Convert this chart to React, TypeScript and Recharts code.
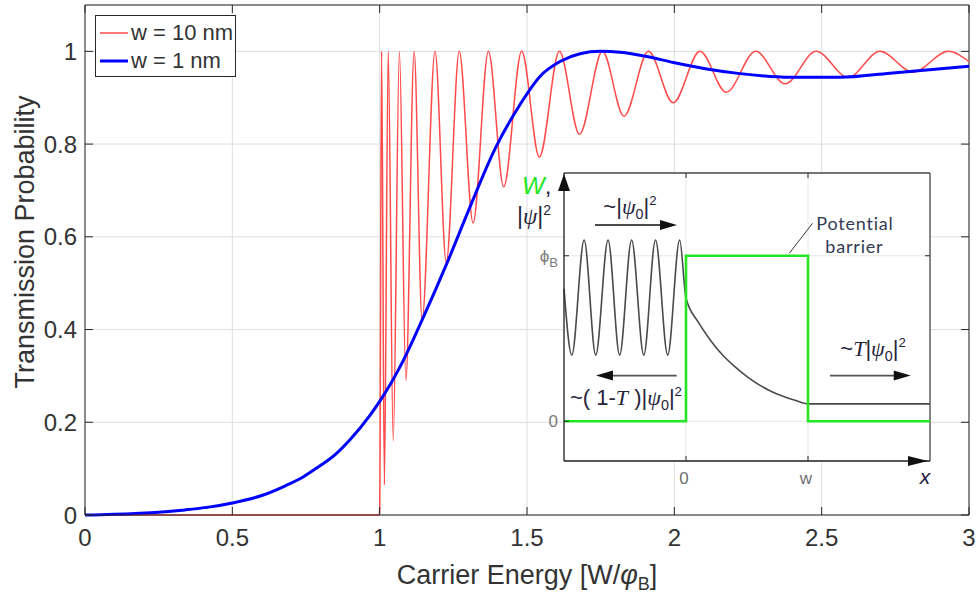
import React from 'react';
import { LineChart, Line, XAxis, YAxis, CartesianGrid, ReferenceLine, ReferenceDot, Legend } from 'recharts';

// ---------------- main chart data ----------------
const energyTicks = [0, 0.5, 1, 1.5, 2, 2.5, 3];
const probabilityTicks = [0, 0.2, 0.4, 0.6, 0.8, 1];
const seriesNames = ['w = 10 nm', 'w = 1 nm'];

// w = 10 nm (red)
const wideEnergy = [0, 0.998, 1.0, 1.0065, 1.016, 1.029, 1.046, 1.067, 1.089, 1.117, 1.144, 1.188, 1.226, 1.27, 1.317, 1.369, 1.421, 1.482, 1.542, 1.61, 1.678, 1.756, 1.829, 1.912, 1.996, 2.087, 2.176, 2.276, 2.376, 2.481, 2.59, 2.698, 2.81, 2.93, 3.0];
const wideTransmission = [0, 0, 0.01, 1, 0.065, 1, 0.16, 1, 0.29, 1, 0.42, 1, 0.545, 1, 0.63, 1, 0.708, 1, 0.772, 1, 0.821, 1, 0.86, 1, 0.889, 1, 0.912, 1, 0.93, 1, 0.944, 1, 0.955, 1, 0.978];

// w = 1 nm (blue)
const thinEnergy = [0, 0.17, 0.25, 0.34, 0.42, 0.5, 0.6, 0.68, 0.74, 0.79, 0.85, 0.9, 0.967, 1.0, 1.08, 1.143, 1.227, 1.307, 1.391, 1.476, 1.544, 1.612, 1.68, 1.748, 1.816, 1.906, 1.997, 2.11, 2.223, 2.393, 2.562, 2.732, 3.0];
const thinTransmission = [0, 0.0035, 0.006, 0.011, 0.017, 0.026, 0.042, 0.063, 0.082, 0.103, 0.131, 0.163, 0.215, 0.245, 0.333, 0.419, 0.541, 0.665, 0.789, 0.885, 0.946, 0.978, 0.995, 1.0, 0.998, 0.989, 0.976, 0.962, 0.952, 0.944, 0.944, 0.953, 0.968];

// ---------------- inset data ----------------
const insetTicks = [0, 1];
const insetXLabels = ['0', 'w'];
const insetYLabels = ['0', 'ϕ'];
const barrierX = [-1, 0, 0, 1, 1, 2];
const barrierW = [0, 0, 1, 1, 0, 0];
const waveX = [-1.0, -0.936, -0.835, -0.74, -0.639, -0.544, -0.446, -0.346, -0.25, -0.15, -0.052, 0, 0.1, 0.2, 0.3, 0.4, 0.5, 0.6, 0.7, 0.8, 0.9, 1.0, 2.0];
const waveAmp = [0.8, 0.4, 1.095, 0.4, 1.095, 0.4, 1.095, 0.4, 1.095, 0.4, 1.095, 0.745, 0.6, 0.49, 0.4, 0.33, 0.27, 0.22, 0.18, 0.15, 0.125, 0.105, 0.105];

const wideData = wideEnergy.map((e, i) => ({ e, t: wideTransmission[i] }));
const thinData = thinEnergy.map((e, i) => ({ e, t: thinTransmission[i] }));
const barrierData = barrierX.map((x, i) => ({ x, v: barrierW[i] }));
const waveData = waveX.map((x, i) => ({ x, v: waveAmp[i] }));

// annotation anchors (inset data coordinates)
const incidentArrow = { x1: -0.746, x2: -0.074, y: 1.186 };
const reflectedArrow = { x1: -0.076, x2: -0.738, y: 0.276 };
const transmittedArrow = { x1: 1.18, x2: 1.842, y: 0.276 };

const AXIS = '#262626';
const TEXT = '#333333';
const FONT = '"Liberation Sans", Arial, Helvetica, sans-serif';
const MATH = '"Liberation Serif", "DejaVu Serif", serif';
const RED = '#ff4a4a';
const BLUE = '#0000ff';
const GREEN = '#22e622';

const MainBottomTick = (props: any) => {
  const { x, y, payload } = props;
  return (
    <g>
      <line x1={x} y1={y} x2={x} y2={y - 8} stroke={AXIS} strokeWidth={1} />
      <text x={x} y={y + 31} textAnchor="middle" fontSize={24} fill={TEXT} fontFamily={FONT}>
        {String(payload.value)}
      </text>
    </g>
  );
};

const MainLeftTick = (props: any) => {
  const { x, y, payload } = props;
  return (
    <g>
      <line x1={x} y1={y} x2={x + 8} y2={y} stroke={AXIS} strokeWidth={1} />
      <text x={x - 8} y={y + 8.5} textAnchor="end" fontSize={24} fill={TEXT} fontFamily={FONT}>
        {String(payload.value)}
      </text>
    </g>
  );
};

const XTitle = (props: any) => {
  const vb = props.viewBox || { x: 85, y: 515, width: 884, height: 40 };
  const cx = vb.x + vb.width / 2;
  return (
    <text x={cx} y={vb.y + 69} textAnchor="middle" fontSize={27} fill={TEXT} fontFamily={FONT}>
      Carrier Energy [W/<tspan fontStyle="italic">φ</tspan>
      <tspan dy={6} fontSize={18}>B</tspan>
      <tspan dy={-6}>]</tspan>
    </text>
  );
};

const YTitle = (props: any) => {
  const vb = props.viewBox || { x: 40, y: 5, width: 45, height: 510 };
  const cy = vb.y + 237;
  const cx = 25;
  return (
    <text x={cx} y={cy} transform={`rotate(-90 ${cx} ${cy})`} textAnchor="middle" dy="0.35em" fontSize={27} fill={TEXT} fontFamily={FONT}>
      Transmission Probability
    </text>
  );
};

const LegendBox = (props: any) => {
  const items = [...(props.payload || [])].sort(
    (a: any, b: any) => seriesNames.indexOf(a.value) - seriesNames.indexOf(b.value)
  );
  return (
    <div style={{ width: 141, height: 62, border: `1px solid ${AXIS}`, background: '#fff', boxSizing: 'border-box', position: 'relative', fontFamily: FONT }}>
      {items.map((it: any, i: number) => (
        <div key={i} style={{ position: 'absolute', left: 4, top: i === 0 ? 3 : 31, height: 28, display: 'flex', alignItems: 'center' }}>
          <svg width={28} height={8} style={{ display: 'block' }}>
            <line x1={0} y1={4} x2={28} y2={4} stroke={it.color} strokeWidth={i === 0 ? 2 : 3} strokeOpacity={i === 0 ? 0.75 : 1} />
          </svg>
          <span style={{ marginLeft: 3, fontSize: 22, color: TEXT, lineHeight: '28px', whiteSpace: 'nowrap' }}>{it.value}</span>
        </div>
      ))}
    </div>
  );
};

// ---------- inset helpers ----------
const InsetBottomTick = (props: any) => {
  const { x, y, payload } = props;
  const label = insetXLabels[insetTicks.indexOf(payload.value)];
  return (
    <g>
      <line x1={x} y1={y} x2={x} y2={y - 5} stroke={AXIS} strokeWidth={1} />
      <text x={x - 2} y={y + 23} textAnchor="middle" fontSize={17} fill="#6e6e6e" fontFamily={FONT}>{label}</text>
    </g>
  );
};

const InsetLeftTick = (props: any) => {
  const { x, y, payload } = props;
  const idx = insetTicks.indexOf(payload.value);
  const label = insetYLabels[idx];
  return (
    <g>
      <line x1={x} y1={y} x2={x + 5} y2={y} stroke={AXIS} strokeWidth={1} />
      <text x={x - 6} y={y + 6} textAnchor="end" fontSize={17} fill="#7a7a7a" fontFamily={FONT}>
        <tspan>{label}</tspan>
        {idx === 1 ? <tspan dy={5} fontSize={13}>B</tspan> : null}
      </text>
    </g>
  );
};

const headRight = (props: any) => {
  const { cx, cy } = props;
  return <path d={`M${cx},${cy} L${cx - 17},${cy - 5} L${cx - 17},${cy + 5} Z`} fill="#111" />;
};
const headLeft = (props: any) => {
  const { cx, cy } = props;
  return <path d={`M${cx},${cy} L${cx + 17},${cy - 5} L${cx + 17},${cy + 5} Z`} fill="#111" />;
};
const headUp = (props: any) => {
  const { cx, cy } = props;
  return <path d={`M${cx},${cy + 1} L${cx - 6},${cy + 18} L${cx + 6},${cy + 18} Z`} fill="#111" />;
};
const headAxisRight = (props: any) => {
  const { cx, cy } = props;
  return <path d={`M${cx - 2},${cy} L${cx - 22},${cy - 5} L${cx - 22},${cy + 5} Z`} fill="#111" />;
};

const MATH_COLOR = '#24243a';

const psi0 = (size: number) => [
  <tspan key="a">|</tspan>,
  <tspan key="b" fontStyle="italic" fontFamily={MATH}>ψ</tspan>,
  <tspan key="c" dy={5} fontSize={size * 0.65}>0</tspan>,
  <tspan key="d" dy={-5}>|</tspan>,
  <tspan key="e" dy={-9} fontSize={size * 0.6}>2</tspan>,
];

const incidentText = (props: any) => (
  <text x={props.cx} y={props.cy} textAnchor="middle" fontSize={22} fill={MATH_COLOR} fontFamily={FONT}>
    ~{psi0(22)}
  </text>
);
const reflectedText = (props: any) => (
  <text x={props.cx} y={props.cy} textAnchor="middle" fontSize={22} fill={MATH_COLOR} fontFamily={FONT}>
    ~( 1-<tspan fontStyle="italic" fontFamily={MATH}>T</tspan> ){psi0(22)}
  </text>
);
const transmittedText = (props: any) => (
  <text x={props.cx} y={props.cy} textAnchor="middle" fontSize={22} fill={MATH_COLOR} fontFamily={FONT}>
    ~<tspan fontStyle="italic" fontFamily={MATH}>T</tspan>{psi0(22)}
  </text>
);
const potentialText = (props: any) => (
  <text x={props.cx} y={props.cy} textAnchor="middle" fontSize={18} fill="#2f3b52" fontFamily='Lato, "Liberation Sans", sans-serif' letterSpacing={0.8}>
    Potential
  </text>
);
const barrierText = (props: any) => (
  <text x={props.cx} y={props.cy} textAnchor="middle" fontSize={18} fill="#2f3b52" fontFamily='Lato, "Liberation Sans", sans-serif' letterSpacing={0.8}>
    barrier
  </text>
);
const wText = (props: any) => (
  <text x={props.cx} y={props.cy} textAnchor="start" fontSize={24} fontFamily={FONT}>
    <tspan fill={GREEN} fontStyle="italic">W</tspan>
    <tspan fill={MATH_COLOR}>,</tspan>
  </text>
);
const psiText = (props: any) => (
  <text x={props.cx} y={props.cy} textAnchor="start" fontSize={23} fill={MATH_COLOR} fontFamily={FONT}>
    |<tspan fontStyle="italic" fontFamily={MATH}>ψ</tspan>|<tspan dy={-9} fontSize={14}>2</tspan>
  </text>
);
const xAxisText = (props: any) => (
  <text x={props.cx} y={props.cy} textAnchor="middle" fontSize={21} fill="#1c1c3a" fontStyle="italic" fontFamily={FONT}>
    x
  </text>
);

export default function App() {
  return (
    <div style={{ position: 'absolute', left: 0, top: 0, width: 978, height: 596, background: '#ffffff', fontFamily: FONT }}>
      <LineChart width={978} height={596} margin={{ top: 5, right: 9, bottom: 41, left: 40 }}>
        <CartesianGrid stroke="#dedede" strokeWidth={1} />
        <XAxis
          type="number"
          dataKey="e"
          domain={[0, 3]}
          ticks={energyTicks}
          height={40}
          tickSize={0}
          tickMargin={0}
          tickLine={false}
          tick={<MainBottomTick />}
          axisLine={{ stroke: AXIS, strokeWidth: 1 }}
          label={{ content: XTitle }}
        />
        <YAxis
          type="number"
          domain={[0, 1.1]}
          ticks={probabilityTicks}
          width={45}
          tickSize={0}
          tickMargin={0}
          tickLine={false}
          tick={<MainLeftTick />}
          axisLine={{ stroke: AXIS, strokeWidth: 1 }}
          label={{ content: YTitle }}
        />
        <ReferenceLine y={1.1} stroke={AXIS} strokeWidth={1} />
        <ReferenceLine x={3} stroke={AXIS} strokeWidth={1} />
        {energyTicks.map((t) => (
          <ReferenceLine key={`tt${t}`} segment={[{ x: t, y: 1.1 }, { x: t, y: 1.1 - 0.0172 }]} stroke={AXIS} strokeWidth={1} />
        ))}
        {probabilityTicks.map((t) => (
          <ReferenceLine key={`rt${t}`} segment={[{ x: 3, y: t }, { x: 3 - 0.027, y: t }]} stroke={AXIS} strokeWidth={1} />
        ))}
        <Line data={wideData} dataKey="t" name={seriesNames[0]} type="monotone" stroke={RED} strokeWidth={1.5} dot={false} activeDot={false} isAnimationActive={false} />
        <Line data={thinData} dataKey="t" name={seriesNames[1]} type="monotone" stroke={BLUE} strokeWidth={3} dot={false} activeDot={false} isAnimationActive={false} />
        <Legend
          layout="vertical"
          align="center"
          verticalAlign="middle"
          content={LegendBox}
          wrapperStyle={{ left: 95, top: 15, width: 141, height: 62 }}
        />
      </LineChart>

      <div style={{ position: 'absolute', left: 500, top: 160 }}>
        <LineChart width={460} height={340} margin={{ top: 13, right: 30, bottom: 38, left: 63 }}>
          <CartesianGrid stroke="#e8e8e8" fill="#ffffff" fillOpacity={1} />
          <XAxis
            type="number"
            dataKey="x"
            domain={[-1, 2]}
            ticks={insetTicks}
            height={1}
            tickSize={0}
            tickMargin={0}
            tickLine={false}
            tick={<InsetBottomTick />}
            axisLine={{ stroke: '#222', strokeWidth: 1.3 }}
          />
          <YAxis
            type="number"
            domain={[-0.24, 1.5]}
            ticks={insetTicks}
            width={1}
            tickSize={0}
            tickMargin={0}
            tickLine={false}
            tick={<InsetLeftTick />}
            axisLine={{ stroke: '#222', strokeWidth: 1.3 }}
          />
          <ReferenceLine y={1.5} stroke="#4a4a4a" strokeWidth={1.3} />
          <ReferenceLine x={2} stroke="#4a4a4a" strokeWidth={1.3} />
          {insetTicks.map((t) => (
            <ReferenceLine key={`it${t}`} segment={[{ x: t, y: 1.5 }, { x: t, y: 1.47 }]} stroke={AXIS} strokeWidth={1} />
          ))}
          {insetTicks.map((t) => (
            <ReferenceLine key={`ir${t}`} segment={[{ x: 2, y: t }, { x: 1.959, y: t }]} stroke={AXIS} strokeWidth={1} />
          ))}
          <Line data={waveData} dataKey="v" type="monotone" stroke="#4a4a4a" strokeWidth={1.6} dot={false} activeDot={false} isAnimationActive={false} legendType="none" />
          <Line data={barrierData} dataKey="v" type="linear" stroke={GREEN} strokeWidth={2.6} dot={false} activeDot={false} isAnimationActive={false} legendType="none" />

          <ReferenceLine segment={[{ x: incidentArrow.x1, y: incidentArrow.y }, { x: incidentArrow.x2 - 0.1, y: incidentArrow.y }]} stroke="#111" strokeWidth={1.6} />
          <ReferenceDot x={incidentArrow.x2} y={incidentArrow.y} r={0} shape={headRight} ifOverflow="visible" />
          <ReferenceLine segment={[{ x: reflectedArrow.x1, y: reflectedArrow.y }, { x: reflectedArrow.x2 + 0.1, y: reflectedArrow.y }]} stroke="#555" strokeWidth={1.6} />
          <ReferenceDot x={reflectedArrow.x2} y={reflectedArrow.y} r={0} shape={headLeft} ifOverflow="visible" />
          <ReferenceLine segment={[{ x: transmittedArrow.x1, y: transmittedArrow.y }, { x: transmittedArrow.x2 - 0.1, y: transmittedArrow.y }]} stroke="#555" strokeWidth={1.6} />
          <ReferenceDot x={transmittedArrow.x2} y={transmittedArrow.y} r={0} shape={headRight} ifOverflow="visible" />

          <ReferenceLine segment={[{ x: 1.037, y: 1.196 }, { x: 0.847, y: 1.015 }]} stroke="#333" strokeWidth={1} />

          <ReferenceDot x={-1} y={1.5} r={0} shape={headUp} ifOverflow="visible" />
          <ReferenceDot x={2} y={-0.24} r={0} shape={headAxisRight} ifOverflow="visible" />

          <ReferenceDot x={-0.459} y={1.253} r={0} shape={incidentText} ifOverflow="visible" />
          <ReferenceDot x={-0.492} y={0.099} r={0} shape={reflectedText} ifOverflow="visible" />
          <ReferenceDot x={1.533} y={0.395} r={0} shape={transmittedText} ifOverflow="visible" />
          <ReferenceDot x={1.385} y={1.157} r={0} shape={potentialText} ifOverflow="visible" />
          <ReferenceDot x={1.38} y={1.017} r={0} shape={barrierText} ifOverflow="visible" />
          <ReferenceDot x={-1.344} y={1.374} r={0} shape={wText} ifOverflow="visible" />
          <ReferenceDot x={-1.385} y={1.193} r={0} shape={psiText} ifOverflow="visible" />
          <ReferenceDot x={1.959} y={-0.379} r={0} shape={xAxisText} ifOverflow="visible" />
        </LineChart>
      </div>
    </div>
  );
}
